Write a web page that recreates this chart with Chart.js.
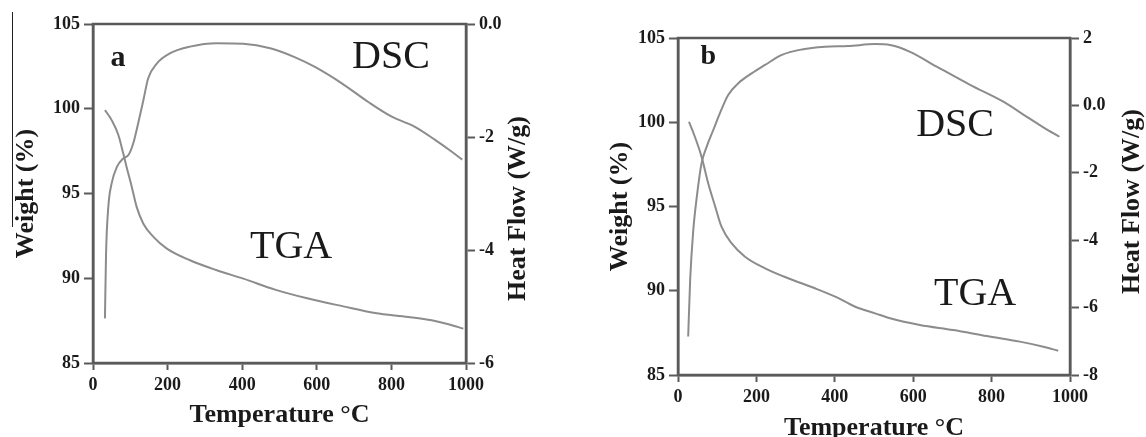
<!DOCTYPE html>
<html>
<head>
<meta charset="utf-8">
<script src="https://cdn.jsdelivr.net/npm/chart.js@4.4.1/dist/chart.umd.min.js"></script>
<style>
  html, body { margin: 0; padding: 0; background: #fff; }
  #wrap { position: relative; width: 1146px; height: 437px; overflow: hidden; }
  canvas { position: absolute; top: 0; }
  #chartA { left: 0; }
  #chartB { left: 573px; }
  #edge { position: absolute; left: 12px; top: 12px; width: 1px; height: 215px; background: #222; }
</style>
</head>
<body>
<div id="wrap">
  <canvas id="chartA" width="573" height="437"></canvas>
  <canvas id="chartB" width="573" height="437"></canvas>
  <div id="edge"></div>
</div>
<script>
// tick values
const tempTicks = [0, 200, 400, 600, 800, 1000]
const weightTicks = [85, 90, 95, 100, 105]
const heatTicksA = [-6, -4, -2, 0]
const heatTicksB = [-8, -6, -4, -2, 0, 2]

// panel a - TGA (weight %) and DSC (heat flow W/g)
const tgaTempA = [32, 50, 68, 81, 90, 104, 117, 135, 162, 198, 260, 332, 403, 488, 577, 671, 756, 845, 908, 953, 993]
const tgaWeightA = [99.92, 99.33, 98.45, 97.37, 96.57, 95.39, 94.21, 93.22, 92.44, 91.75, 91.06, 90.47, 89.98, 89.33, 88.80, 88.34, 87.95, 87.72, 87.52, 87.29, 87.03]
const dscTempA = [32, 35, 41, 50, 64, 81, 95, 108, 121, 135, 148, 171, 206, 260, 332, 403, 475, 542, 595, 667, 738, 801, 863, 917, 962, 990]
const dscHeatA = [-5.21, -4.06, -3.24, -2.82, -2.53, -2.38, -2.32, -2.11, -1.76, -1.35, -0.96, -0.70, -0.52, -0.40, -0.34, -0.35, -0.43, -0.59, -0.76, -1.05, -1.38, -1.64, -1.82, -2.05, -2.26, -2.40]

// panel b
const tgaTempB = [28, 43, 60, 77, 95, 111, 137, 171, 222, 281, 349, 401, 452, 503, 541, 617, 702, 788, 872, 932, 970]
const tgaWeightB = [100.03, 99.14, 97.96, 96.38, 94.99, 93.80, 92.81, 92.02, 91.33, 90.74, 90.15, 89.65, 89.05, 88.66, 88.37, 87.97, 87.67, 87.31, 86.98, 86.68, 86.44]
const dscTempB = [26, 31, 39, 48, 60, 73, 90, 107, 128, 154, 188, 222, 265, 316, 375, 434, 503, 541, 592, 660, 745, 830, 890, 932, 973]
const dscHeatB = [-6.86, -5.18, -3.70, -2.71, -1.72, -1.23, -0.73, -0.23, 0.31, 0.66, 0.95, 1.20, 1.50, 1.66, 1.74, 1.76, 1.82, 1.79, 1.59, 1.15, 0.61, 0.11, -0.34, -0.65, -0.93]

const serif = '"Liberation Serif", "Times New Roman", serif'
const frameColor = '#5a5a5a'
const curveColor = '#8c8c8c'
const textColor = '#1a1a1a'

const toPoints = (xs, ys) => xs.map((x, i) => ({ x: x, y: ys[i] }))
const heatLabel = v => (v === 0 ? '0.0' : String(v))

// box round the plot, the in-plot texts (a, DSC, TGA) and the right title
// (the right title reads bottom to top like the left one, so it is drawn here)
const frameAndText = {
    id: 'frameAndText',
    afterDatasetsDraw(chart, args, opts) {
        const { ctx, chartArea: a, scales } = chart
        ctx.save()
        ctx.strokeStyle = frameColor
        ctx.lineWidth = 2.5
        ctx.strokeRect(a.left, a.top, a.right - a.left, a.bottom - a.top)
        ctx.fillStyle = textColor
        ctx.textAlign = 'center'
        ctx.textBaseline = 'middle'
        opts.notes.forEach(n => {
            ctx.font = n.font
            ctx.fillText(n.text, scales.x.getPixelForValue(n.x), scales.y.getPixelForValue(n.y))
        })
        ctx.translate(scales.y2.right - opts.rightTitleOff, (a.top + a.bottom) / 2 + opts.rightTitleShift)
        ctx.rotate(-Math.PI / 2)
        ctx.font = 'bold 26px ' + serif
        ctx.fillText('Heat Flow (W/g)', 0, 0)
        ctx.restore()
    }
}

const makeChart = (id, p) => {
    const tickFont = { family: serif, size: 18, weight: 'bold' }
    const titleFont = { family: serif, size: 26, weight: 'bold', lineHeight: 1 }
    const grid = { drawOnChartArea: false, drawTicks: true, tickLength: 9, tickWidth: 2, color: frameColor }
    const border = { display: true, color: frameColor, width: 2.5 }

    return new Chart(document.querySelector(id), {
        type: 'line',
        data: {
            datasets: [
                {
                    label: 'TGA',
                    data: toPoints(p.tgaT, p.tgaW),
                    yAxisID: 'y',
                },
                {
                    label: 'DSC',
                    data: toPoints(p.dscT, p.dscH),
                    yAxisID: 'y2',
                },
            ],
        },
        options: {
            responsive: false,
            animation: false,
            layout: { padding: { top: p.top, left: 0, right: 0, bottom: 0 } },
            elements: {
                point: { radius: 0 },
                line: { borderColor: curveColor, borderWidth: 2, cubicInterpolationMode: 'monotone', fill: false },
            },
            plugins: {
                legend: { display: false },
                tooltip: { enabled: false },
                frameAndText: { notes: p.notes, rightTitleOff: p.rightTitleOff, rightTitleShift: p.rightTitleShift },
            },
            scales: {
                x: {
                    type: 'linear',
                    min: 0,
                    max: 1000,
                    afterBuildTicks: s => { s.ticks = tempTicks.map(v => ({ value: v })) },
                    afterFit: s => { s.height = p.xHeight },
                    ticks: { font: tickFont, color: textColor, padding: 5, maxRotation: 0, callback: v => String(v) },
                    grid: { ...grid, tickLength: 7 },
                    border: border,
                    title: { display: true, text: 'Temperature °C', font: titleFont, color: textColor, padding: { top: 0, bottom: p.xTitlePad } },
                },
                y: {
                    position: 'left',
                    min: 85,
                    max: 105,
                    afterBuildTicks: s => { s.ticks = weightTicks.map(v => ({ value: v })) },
                    afterFit: s => { s.width = p.leftW },
                    ticks: { font: tickFont, color: textColor, padding: 4 },
                    grid: grid,
                    border: border,
                    title: { display: true, text: 'Weight (%)', font: titleFont, color: textColor, padding: { top: p.leftTitlePad, bottom: 0 } },
                },
                y2: {
                    position: 'right',
                    min: p.heatTicks[0],
                    max: p.heatTicks[p.heatTicks.length - 1],
                    afterBuildTicks: s => { s.ticks = p.heatTicks.map(v => ({ value: v })) },
                    afterFit: s => { s.width = p.rightW },
                    ticks: { font: tickFont, color: textColor, padding: 4, callback: heatLabel },
                    grid: grid,
                    border: border,
                },
            },
        },
        plugins: [frameAndText],
    })
}

makeChart('#chartA', {
    tgaT: tgaTempA, tgaW: tgaWeightA, dscT: dscTempA, dscH: dscHeatA,
    heatTicks: heatTicksA,
    top: 24, xHeight: 74, leftW: 93, rightW: 107,
    leftTitlePad: 13, rightTitleOff: 55, rightTitleShift: 15, xTitlePad: 9,
    notes: [
        { text: 'a', x: 67, y: 103.0, font: 'bold 30px ' + serif },
        { text: 'DSC', x: 799, y: 103.0, font: '40px ' + serif },
        { text: 'TGA', x: 531, y: 91.8, font: '40px ' + serif },
    ],
})

makeChart('#chartB', {
    tgaT: tgaTempB, tgaW: tgaWeightB, dscT: dscTempB, dscH: dscHeatB,
    heatTicks: heatTicksB,
    top: 38, xHeight: 62, leftW: 105, rightW: 76,
    leftTitlePad: 34, rightTitleOff: 14, rightTitleShift: -5, xTitlePad: -4,
    notes: [
        { text: 'b', x: 77, y: 103.9, font: 'bold 28px ' + serif },
        { text: 'DSC', x: 707, y: 99.8, font: '40px ' + serif },
        { text: 'TGA', x: 758, y: 89.75, font: '40px ' + serif },
    ],
})
</script>
</body>
</html>
